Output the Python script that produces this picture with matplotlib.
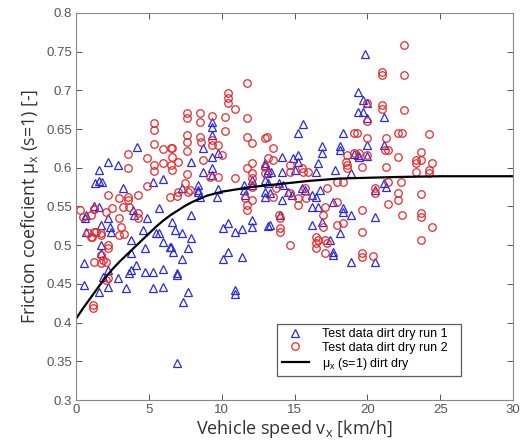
import matplotlib
matplotlib.use("Agg")
import matplotlib.pyplot as plt

# ---- data: test run 1 (blue triangles) ----
run1_x = [0.55, 0.55, 0.7, 0.7, 0.6, 1.2, 1.3, 1.6, 1.6, 1.8, 1.6, 1.7, 1.7, 1.7, 1.6, 1.85, 2.2, 2.2,
          2.2, 2.3, 2.4, 2.2, 2.9, 2.9, 3.2, 3.4, 3.6, 3.8, 3.8, 3.8, 3.9, 4.0, 4.1, 4.2, 4.6, 4.7,
          4.7, 4.9, 5.3, 5.3, 5.3, 5.5, 5.7, 5.7, 6.0, 6.0, 6.0, 6.0, 6.5, 6.65, 6.6, 6.8, 6.45, 6.9,
          6.9, 6.9, 7.3, 7.3, 7.35, 7.7, 7.7, 7.9, 7.9, 7.9, 7.3, 8.4, 8.4, 8.5, 8.4, 8.7, 8.7, 9.3,
          9.3, 9.3, 9.3, 9.35, 9.35, 9.75, 9.75, 9.7, 10.1, 10.4, 10.9, 11.4, 12.1, 12.1, 13.2, 10.4,
          10.1, 11.4, 10.9, 10.9, 11.6, 11.5, 11.5, 12.1, 12.1, 13.0, 13.1,
          15.6, 15.2, 18.3, 16.9, 16.9, 18.1, 18.1, 14.1, 14.9, 15.2, 15.2, 16.6, 19.1, 19.4, 13.0,
          13.2, 13.4, 14.1, 15.0, 16.5, 17.8, 18.9, 13.0, 13.2, 13.0, 13.3, 13.0, 13.9, 14.2, 14.55,
          14.8, 15.5, 15.7, 16.5, 16.75, 16.2, 14.1, 14.0, 16.2, 16.6, 17.6, 18.3, 18.3, 18.9, 13.3,
          16.2, 16.9, 18.1, 17.4, 17.6, 17.6, 18.9,
          19.8, 19.35, 19.7, 20.0, 19.35, 19.7, 20.0, 21.1, 20.0, 21.1, 20.0, 19.35, 21.1, 20.5,
          21.3, 20.5, 20.5]
run1_y = [0.477, 0.449, 0.539, 0.517, 0.535, 0.55, 0.58, 0.597, 0.583, 0.582, 0.549, 0.526, 0.500,
          0.490, 0.44, 0.459, 0.468, 0.446, 0.535, 0.524, 0.517, 0.607, 0.604, 0.458, 0.574, 0.445,
          0.464, 0.468, 0.507, 0.49, 0.545, 0.539, 0.474, 0.627, 0.520, 0.465, 0.496, 0.535, 0.582,
          0.465, 0.445, 0.516, 0.548, 0.516, 0.585, 0.504, 0.469, 0.446, 0.498, 0.491, 0.530, 0.520,
          0.498, 0.464, 0.461, 0.348, 0.516, 0.482, 0.427, 0.496, 0.440, 0.539, 0.509, 0.607, 0.574,
          0.578, 0.571, 0.562, 0.569, 0.626, 0.595, 0.659, 0.653, 0.642, 0.614, 0.600, 0.591, 0.619,
          0.573, 0.562, 0.522, 0.529, 0.517, 0.521, 0.533, 0.524, 0.525, 0.491, 0.482, 0.485, 0.442,
          0.437, 0.565, 0.578, 0.571, 0.584, 0.578, 0.604, 0.593,
          0.657, 0.645, 0.645, 0.628, 0.619, 0.628, 0.623, 0.614, 0.613, 0.617, 0.607, 0.606, 0.618,
          0.614, 0.606, 0.597, 0.595, 0.595, 0.597, 0.595, 0.597, 0.593, 0.584, 0.580, 0.569, 0.567,
          0.562, 0.580, 0.578, 0.569, 0.565, 0.574, 0.571, 0.562, 0.571, 0.565, 0.558, 0.539, 0.549,
          0.549, 0.556, 0.548, 0.543, 0.539, 0.526, 0.526, 0.530, 0.516, 0.507, 0.491, 0.487, 0.478,
          0.747, 0.698, 0.688, 0.684, 0.672, 0.672, 0.664, 0.666, 0.629, 0.629, 0.615, 0.617, 0.580,
          0.571, 0.575, 0.536, 0.478]

# ---- data: test run 2 (red circles) ----
run2_x = [0.5, 0.3, 1.0, 1.2, 2.05, 2.5, 3.2, 3.6, 2.95, 3.1, 4.25, 4.25, 1.1, 0.8, 1.7, 1.0, 1.2,
          1.4, 1.7, 2.95, 3.3, 2.2, 2.2, 1.7, 1.85, 1.2, 2.05, 1.7, 2.2, 2.05, 1.17, 1.17, 1.24, 2.2,
          2.95, 3.57, 3.57, 4.25, 6.45, 3.57, 3.57, 4.87, 4.87, 5.35, 5.35, 5.35, 5.35, 5.35, 6.0,
          6.5, 6.0, 6.5, 6.6, 6.6, 6.6, 7.0, 7.6, 7.6, 7.6, 7.6, 7.6, 7.6, 8.5, 8.5, 8.5, 8.6, 8.7,
          9.3, 9.3, 9.3, 9.75, 9.75, 10.0, 10.2, 10.2, 10.4, 10.4, 10.4, 10.9, 10.9, 11.7, 11.7, 11.7,
          11.7, 12.1, 12.1, 13.0, 7.0, 7.8, 9.2, 12.1, 6.9, 7.7, 11.6, 11.7, 11.7, 12.1, 12.1, 12.1,
          7.5,
          13.1, 13.5, 19.1, 13.2, 13.5, 13.0, 13.0, 14.7, 14.7, 15.5, 15.6, 15.9, 18.5, 18.6, 18.6,
          18.6, 19.1, 19.4, 19.6, 17.9, 18.3, 13.7, 13.5, 15.2, 15.2, 17.2, 15.7, 15.8, 14.7, 17.1,
          16.95, 17.9, 13.9, 14.0, 14.0, 14.0, 16.95, 17.9, 18.3, 14.7, 16.5, 16.6, 16.5, 16.5, 17.1,
          17.2, 17.1, 19.6, 19.6, 19.6, 20.4,
          22.5, 21.0, 21.0, 22.5, 20.0, 21.0, 21.0, 22.5, 20.0, 19.3, 20.0, 21.3, 22.1, 22.4, 24.2,
          21.4, 22.1, 23.7, 23.3, 23.3, 23.3, 23.7, 24.4, 24.2, 24.2, 20.0, 21.2, 21.3, 21.4, 22.3,
          20.5, 20.5, 22.1, 22.1, 23.7, 21.4, 22.4, 23.7, 23.7, 24.4, 23.7, 19.6]
run2_y = [0.536, 0.545, 0.539, 0.547, 0.543, 0.548, 0.549, 0.549, 0.535, 0.524, 0.542, 0.535, 0.511,
          0.516, 0.513, 0.510, 0.517, 0.517, 0.516, 0.513, 0.514, 0.500, 0.496, 0.487, 0.481, 0.478,
          0.478, 0.477, 0.458, 0.455, 0.423, 0.419, 0.547, 0.565, 0.561, 0.562, 0.558, 0.565, 0.562,
          0.618, 0.600, 0.613, 0.576, 0.658, 0.649, 0.631, 0.604, 0.596, 0.624, 0.626, 0.606, 0.604,
          0.626, 0.614, 0.597, 0.607, 0.671, 0.664, 0.642, 0.633, 0.622, 0.592, 0.671, 0.659, 0.640,
          0.633, 0.610, 0.667, 0.636, 0.629, 0.629, 0.588, 0.617, 0.666, 0.648, 0.697, 0.690, 0.684,
          0.676, 0.587, 0.710, 0.664, 0.640, 0.600, 0.632, 0.606, 0.638, 0.569, 0.571, 0.588, 0.587,
          0.564, 0.568, 0.561, 0.552, 0.545, 0.558, 0.593, 0.575, 0.580,
          0.640, 0.626, 0.645, 0.613, 0.610, 0.601, 0.593, 0.604, 0.595, 0.600, 0.595, 0.595, 0.608,
          0.604, 0.600, 0.617, 0.619, 0.619, 0.601, 0.582, 0.582, 0.574, 0.562, 0.561, 0.552, 0.574,
          0.574, 0.561, 0.567, 0.549, 0.539, 0.556, 0.539, 0.535, 0.522, 0.517, 0.524, 0.526, 0.529,
          0.500, 0.511, 0.507, 0.503, 0.496, 0.507, 0.503, 0.490, 0.545, 0.517, 0.490, 0.486,
          0.759, 0.724, 0.720, 0.720, 0.684, 0.681, 0.676, 0.675, 0.660, 0.645, 0.638, 0.638, 0.645,
          0.645, 0.644, 0.623, 0.614, 0.620, 0.610, 0.606, 0.595, 0.610, 0.606, 0.597, 0.593, 0.617,
          0.623, 0.601, 0.582, 0.582, 0.574, 0.567, 0.567, 0.558, 0.566, 0.553, 0.539, 0.542, 0.536,
          0.524, 0.507, 0.485]

# ---- model curve mu_x(s=1) dirt dry ----
curve_x = [0, 0.5, 1, 1.5, 2, 2.5, 3, 3.5, 4, 4.5, 5, 5.5, 6, 6.5, 7, 7.5, 8, 8.5, 9, 10, 11, 12,
           13, 14, 16, 18, 20, 22, 25, 30]
curve_y = [0.405, 0.419, 0.432, 0.445, 0.458, 0.469, 0.479, 0.488, 0.497, 0.506, 0.515, 0.524,
           0.532, 0.539, 0.545, 0.551, 0.556, 0.560, 0.564, 0.569, 0.572, 0.575, 0.577, 0.579,
           0.583, 0.586, 0.587, 0.588, 0.589, 0.589]

x_ticks = [0, 5, 10, 15, 20, 25, 30]
y_ticks = [0.3, 0.35, 0.4, 0.45, 0.5, 0.55, 0.6, 0.65, 0.7, 0.75, 0.8]
y_tick_labels = ["0.3", "0.35", "0.4", "0.45", "0.5", "0.55", "0.6", "0.65", "0.7", "0.75", "0.8"]

plt.rcParams['font.family'] = ['Liberation Sans', 'DejaVu Sans']
plt.rcParams['mathtext.default'] = 'regular'

fig = plt.figure(figsize=(5.21, 4.43), dpi=100)
ax = fig.add_axes([0.146, 0.097, 0.839, 0.874])

blue = '#2a2ae0'
red = '#e8292b'
ax.plot(run1_x, run1_y, linestyle='none', marker='^', markersize=5.6, markerfacecolor='none',
        markeredgecolor=blue, markeredgewidth=0.9, label='Test data dirt dry run 1')
ax.plot(run2_x, run2_y, linestyle='none', marker='o', markersize=5.4, markerfacecolor='none',
        markeredgecolor=red, markeredgewidth=0.9, label='Test data dirt dry run 2')
ax.plot(curve_x, curve_y, color='black', linewidth=1.6, label='μ$_{x}$ (s=1) dirt dry')

ax.set_xlim(0, 30)
ax.set_ylim(0.3, 0.8)
ax.set_xticks(x_ticks)
ax.set_yticks(y_ticks)
ax.set_yticklabels(y_tick_labels)
ax.tick_params(direction='in', top=True, right=True, length=4, width=0.7,
               labelsize=9.5, labelcolor='#555555', color='#555555', pad=3)
for s in ax.spines.values():
    s.set_color('#888888')
    s.set_linewidth(0.8)

label_font = ['Open Sans', 'DejaVu Sans']
ax.set_xlabel('Vehicle speed v$_{x}$ [km/h]', fontsize=13, family=label_font,
              color='#333333', labelpad=1)
ax.set_ylabel('Friction coeficient μ$_{x}$ (s=1) [-]', fontsize=12.8, family=label_font,
              color='#333333', labelpad=4)

leg = ax.legend(loc='lower left', bbox_to_anchor=(0.46, 0.062, 0.42, 0.155), mode='expand',
                fontsize=9, frameon=True, fancybox=False, edgecolor='#333333',
                borderpad=0.35, labelspacing=0.15, handlelength=2.2, handletextpad=1.0,
                borderaxespad=0)
leg.get_frame().set_linewidth(0.9)

fig.savefig('out.png', dpi=100)
